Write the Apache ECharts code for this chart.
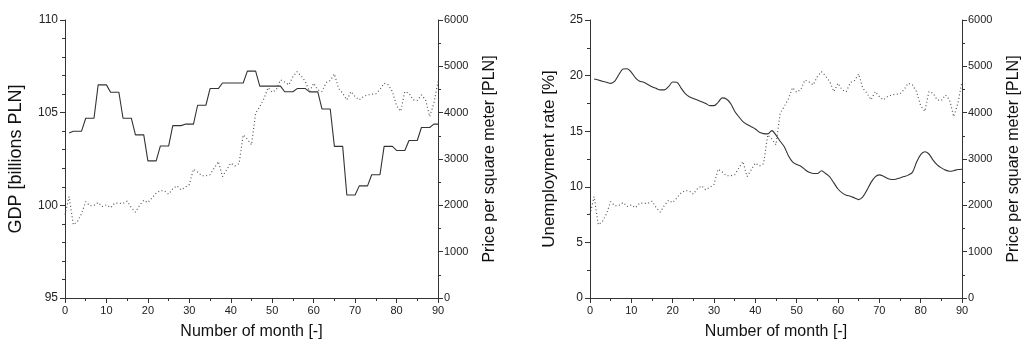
<!DOCTYPE html>
<html>
<head>
<meta charset="utf-8">
<script src="https://cdn.jsdelivr.net/npm/echarts@6/dist/echarts.min.js"></script>
<style>
  html, body { margin: 0; padding: 0; background: #fff; }
  #main { width: 1023px; height: 345px; }
</style>
</head>
<body>
<div id="main"></div>
<script>
// Month index 0..90 (x axis of both panels).
const months = Array.from({ length: 91 }, (_, i) => i);
const xTicks = [0, 10, 20, 30, 40, 50, 60, 70, 80, 90];

// GDP [billions PLN], quarterly values held over three months (month 0 has no value).
const gdp = [
  null, 103.9, 104.0, 104.0, 104.0, 104.7, 104.7, 104.7, 106.5, 106.5,
  106.5, 106.1, 106.1, 106.1, 104.7, 104.7, 104.7, 103.8, 103.8, 103.8,
  102.4, 102.4, 102.4, 103.2, 103.2, 103.2, 104.3, 104.3, 104.3, 104.38,
  104.38, 104.38, 105.4, 105.4, 105.4, 106.3, 106.3, 106.3, 106.6, 106.6,
  106.6, 106.6, 106.6, 106.6, 107.24, 107.24, 107.24, 106.43, 106.43, 106.43,
  106.43, 106.43, 106.43, 106.13, 106.13, 106.13, 106.3, 106.3, 106.3, 106.12,
  106.12, 106.12, 105.2, 105.2, 105.2, 103.18, 103.18, 103.18, 100.56, 100.56,
  100.56, 101.05, 101.05, 101.05, 101.65, 101.65, 101.65, 103.18, 103.18, 103.18,
  102.96, 102.96, 102.96, 103.5, 103.5, 103.5, 104.2, 104.2, 104.2, 104.38,
  104.38
];

// Price per square meter [PLN], monthly.
const price = [
  1800, 2190, 1580, 1650, 1820, 2080, 1990, 2000, 2060, 1975,
  2010, 1950, 2048, 2045, 2040, 2090, 1950, 1854, 2000, 2110,
  2060, 2160, 2263, 2320, 2310, 2242, 2360, 2421, 2335, 2390,
  2450, 2780, 2720, 2640, 2637, 2660, 2803, 2946, 2620, 2766,
  2911, 2850, 2900, 3520, 3430, 3305, 3990, 4131, 4300, 4540,
  4440, 4500, 4707, 4660, 4600, 4778, 4886, 4790, 4670, 4455,
  4636, 4491, 4455, 4650, 4693, 4836, 4528, 4420, 4276, 4455,
  4348, 4276, 4347, 4383, 4398, 4405, 4500, 4636, 4600, 4455,
  4150, 4030, 4455, 4420, 4276, 4262, 4383, 4276, 3915, 4200,
  4670
];

// Unemployment rate [%], monthly (month 0 has no value).
const unemployment = [
  null, 19.7, 19.6, 19.5, 19.4, 19.3, 19.5, 20.1, 20.6, 20.62,
  20.3, 19.8, 19.5, 19.4, 19.2, 19.0, 18.85, 18.72, 18.72, 19.0,
  19.42, 19.4, 18.9, 18.4, 18.1, 17.95, 17.8, 17.65, 17.5, 17.3,
  17.3, 17.6, 18.0, 17.9, 17.5, 16.8, 16.3, 15.86, 15.6, 15.41,
  15.2, 14.9, 14.78, 14.76, 15.05, 14.65, 14.1, 13.6, 12.8, 12.25,
  12.0, 11.85, 11.55, 11.3, 11.2, 11.2, 11.45, 11.2, 10.9, 10.35,
  9.8, 9.45, 9.25, 9.15, 9.0, 8.85, 9.1, 9.7, 10.4, 10.9,
  11.07, 10.95, 10.75, 10.65, 10.68, 10.8, 10.92, 11.05, 11.3, 12.2,
  12.9, 13.15, 12.95, 12.4, 11.97, 11.7, 11.5, 11.4, 11.45, 11.55,
  11.58
];

const pairs = (ys) => months.map((m, i) => [m, ys[i]]);

const font = 'Liberation Sans, Arial, sans-serif';
const axisColor = '#333';

const baseAxis = (extra) => Object.assign({
  axisLine: { show: true, onZero: false, lineStyle: { color: axisColor, width: 1 } },
  axisTick: { show: true, length: 5, lineStyle: { color: axisColor } },
  minorTick: { show: true, length: 3, lineStyle: { color: axisColor } },
  splitLine: { show: false },
  minorSplitLine: { show: false },
  axisLabel: { color: '#222', fontSize: 12, fontFamily: font, margin: 7 },
  nameTextStyle: { color: '#111', fontSize: 16, fontFamily: font },
  nameLocation: 'middle',
}, extra);

const xAxisFor = (gridIndex) => baseAxis({
  type: 'value',
  gridIndex,
  min: xTicks[0],
  max: xTicks[xTicks.length - 1],
  interval: 10,
  minorTick: { show: true, splitNumber: 2, length: 3, lineStyle: { color: axisColor } },
  axisLabel: { color: '#222', fontSize: 11, fontFamily: font, margin: 7 },
  name: 'Number of month [-]',
  nameGap: 26,
});

const priceAxis = (gridIndex) => baseAxis({
  type: 'value',
  gridIndex,
  position: 'right',
  min: 0,
  max: 6000,
  interval: 1000,
  minorTick: { show: true, splitNumber: 2, length: 3, lineStyle: { color: axisColor } },
  axisLabel: { color: '#222', fontSize: 11, fontFamily: font, margin: 6, formatter: (v) => String(v) },
  name: 'Price per square meter [PLN]',
  nameRotate: 90,
  nameGap: 44,
});

const solid = { color: '#333', width: 1.1 };
const dotted = { color: '#555', width: 1.2, type: [1, 2.5] };

const chart = echarts.init(document.getElementById('main'), null, { renderer: 'canvas' });

chart.setOption({
  backgroundColor: '#fff',
  animation: false,
  grid: [
    { left: 65, right: 585, top: 20, bottom: 47 },
    { left: 590, right: 56, top: 20, bottom: 47 },
  ],
  xAxis: [xAxisFor(0), xAxisFor(1)],
  yAxis: [
    baseAxis({
      type: 'value',
      gridIndex: 0,
      position: 'left',
      min: 95,
      max: 110,
      interval: 5,
      minorTick: { show: true, splitNumber: 5, length: 3, lineStyle: { color: axisColor } },
      name: 'GDP [billions PLN]',
      nameRotate: 90,
      nameGap: 40,
      nameTextStyle: { color: '#111', fontSize: 18, fontFamily: font },
    }),
    priceAxis(0),
    baseAxis({
      type: 'value',
      gridIndex: 1,
      position: 'left',
      min: 0,
      max: 25,
      interval: 5,
      minorTick: { show: true, splitNumber: 2, length: 3, lineStyle: { color: axisColor } },
      name: 'Unemployment rate [%]',
      nameRotate: 90,
      nameGap: 32,
      nameTextStyle: { color: '#111', fontSize: 17, fontFamily: font },
    }),
    priceAxis(1),
  ],
  series: [
    {
      name: 'GDP', type: 'line', xAxisIndex: 0, yAxisIndex: 0,
      data: pairs(gdp), showSymbol: false, connectNulls: false,
      lineStyle: solid, silent: true,
    },
    {
      name: 'Price', type: 'line', xAxisIndex: 0, yAxisIndex: 1,
      data: pairs(price), showSymbol: false,
      lineStyle: dotted, silent: true,
    },
    {
      name: 'Unemployment', type: 'line', xAxisIndex: 1, yAxisIndex: 2,
      data: pairs(unemployment), showSymbol: false, smooth: 0.3,
      lineStyle: solid, silent: true,
    },
    {
      name: 'Price', type: 'line', xAxisIndex: 1, yAxisIndex: 3,
      data: pairs(price), showSymbol: false,
      lineStyle: dotted, silent: true,
    },
  ],
});
</script>
</body>
</html>
